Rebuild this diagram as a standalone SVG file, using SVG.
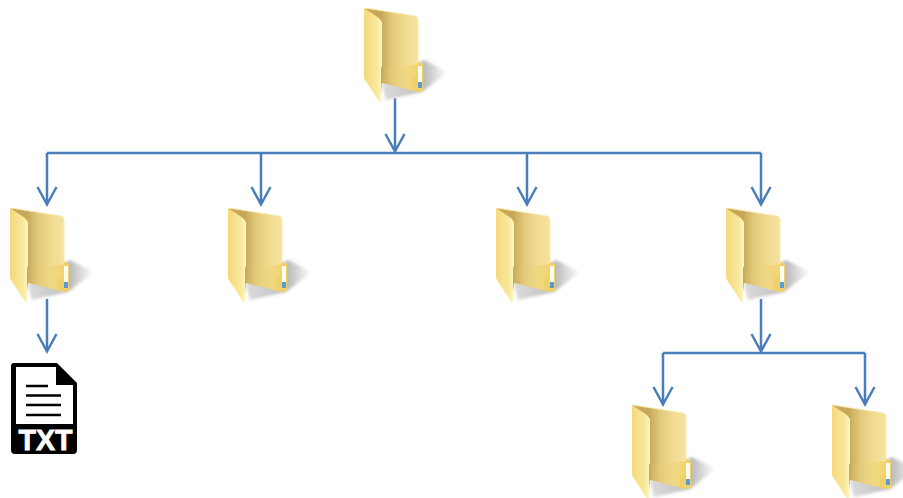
<svg xmlns="http://www.w3.org/2000/svg" width="903" height="498" viewBox="0 0 903 498">
<style>
.c{fill:none;stroke:#4a7ebb;stroke-width:2.5}
.t{font-family:"Liberation Sans",Arial,sans-serif;font-weight:bold;font-size:29px;fill:#fff;stroke:#fff;stroke-width:.8}
</style>
<defs>
<linearGradient id="back" gradientUnits="userSpaceOnUse" x1="17" y1="0" x2="54" y2="0"><stop offset="0" stop-color="#c8a858"/><stop offset=".3" stop-color="#e2c97c"/><stop offset=".65" stop-color="#f0db90"/><stop offset="1" stop-color="#f4e3a0"/></linearGradient>
<linearGradient id="flap" x1="0" y1="0" x2="1" y2="0"><stop offset="0" stop-color="#f4d97c"/><stop offset=".7" stop-color="#f9e89c"/><stop offset=".92" stop-color="#fdf3b8"/><stop offset="1" stop-color="#fffbe0"/></linearGradient>
<linearGradient id="bot" gradientUnits="userSpaceOnUse" x1="18" y1="0" x2="58" y2="0"><stop offset="0" stop-color="#e8cc78" stop-opacity="0"/><stop offset=".6" stop-color="#f0d375" stop-opacity=".5"/><stop offset="1" stop-color="#f2d060"/></linearGradient>
<linearGradient id="sh" gradientUnits="userSpaceOnUse" x1="24" y1="0" x2="84" y2="0"><stop offset="0" stop-color="#d8d8d8"/><stop offset=".6" stop-color="#bcbcbc"/><stop offset="1" stop-color="#fff"/></linearGradient>
<filter id="blur" x="-20%" y="-20%" width="140%" height="140%"><feGaussianBlur stdDeviation="1.5"/></filter>
<symbol id="folder" overflow="visible">
<path d="M18 76L22 92L58 84L84 64L60 52Z" fill="url(#sh)" filter="url(#blur)"/>
<path d="M1 0L51 8Q54 9 54 12V54L59 56V80Q59 84 55 84L18 75L16 94L1 60Z" fill="url(#back)"/>
<path d="M20 60L54 56V84L18 75Z" fill="url(#bot)"/>
<path d="M54 54L59 56V80Q59 84 55 84L48 82L48 70Q52 70 54 66Z" fill="#f0d068"/>
<path d="M1 0L51 8Q54 9 54 12V54" fill="none" stroke="#f8eab4" stroke-width="1"/>
<rect x="54" y="58" width="4" height="22" fill="#fffdf0"/>
<rect x="54" y="74" width="4" height="6" fill="#5b9bd5"/>
<path d="M0 0L12 8Q17 11 18 15V58L17 60V92Q16 95 14 92L1 72Q0 71 0 69Z" fill="url(#flap)"/>
</symbol>
</defs>
<g id="connectors" class="c">
<path d="M395 98V151M385.500 134L395 151.500L404.500 134"/>
<path d="M47 153H761"/>
<path d="M47 153V204M37.500 187L47 204.500L56.500 187"/>
<path d="M261 153V204M251.500 187L261 204.500L270.500 187"/>
<path d="M527 153V204M517.500 187L527 204.500L536.500 187"/>
<path d="M761 153V204M751.500 187L761 204.500L770.500 187"/>
<path d="M47 299V351M37.500 334L47 351.500L56.500 334"/>
<path d="M761 299V351M751.500 334L761 351.500L770.500 334"/>
<path d="M663 353H865"/>
<path d="M663 353V405M653.500 387L663 404.500L672.500 387"/>
<path d="M865 353V405M855.500 387L865 404.500L874.500 387"/>
</g>
<g id="folder-root"><use href="#folder" x="364" y="8"/></g>
<g id="folder-a"><use href="#folder" x="10" y="208"/></g>
<g id="folder-b"><use href="#folder" x="228" y="208"/></g>
<g id="folder-c"><use href="#folder" x="496" y="208"/></g>
<g id="folder-d"><use href="#folder" x="726" y="208"/></g>
<g id="folder-e"><use href="#folder" x="632" y="405"/></g>
<g id="folder-f"><use href="#folder" x="832" y="405"/></g>
<g id="txt-file">
<path d="M14 363H57L77 383V450Q77 454 73 454H15Q11 454 11 450V366Q11 363 14 363Z" fill="#000"/>
<path d="M16 367H56V385H73V424H16Z" fill="#fff"/>
<path d="M26 386H48M26 395.500H61M26 405H61M26 415H61" stroke="#000" stroke-width="2.500"/>
<text class="t" x="18.500" y="450" textLength="54" lengthAdjust="spacingAndGlyphs">TXT</text>
</g>
</svg>
